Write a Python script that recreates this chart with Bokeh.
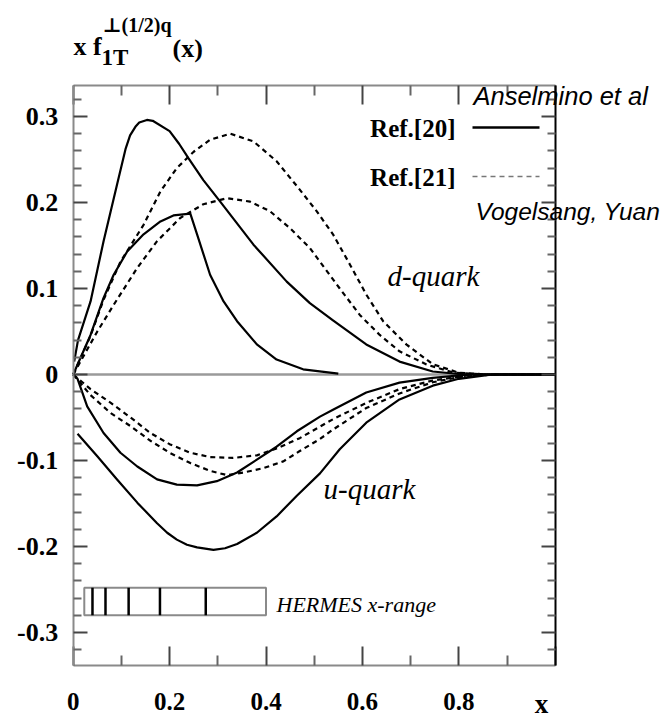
from bokeh.plotting import figure
from bokeh.models import LinearAxis, FixedTicker, Label
from bokeh.embed import file_html
from bokeh.resources import INLINE

# ---------------- data ----------------
X_TICKS = [0.0, 0.2, 0.4, 0.6, 0.8, 1.0]
X_TICK_LABELS = ["0", "0.2", "0.4", "0.6", "0.8", ""]
X_MINOR = [0.1, 0.3, 0.5, 0.7, 0.9]
Y_TICKS = [-0.3, -0.2, -0.1, 0.0, 0.1, 0.2, 0.3]
Y_TICK_LABELS = ["-0.3", "-0.2", "-0.1", "0", "0.1", "0.2", "0.3"]
Y_MINOR = [-0.32, -0.28, -0.26, -0.24, -0.22, -0.18, -0.16, -0.14, -0.12,
           -0.08, -0.06, -0.04, -0.02, 0.02, 0.04, 0.06, 0.08, 0.12, 0.14,
           0.16, 0.18, 0.22, 0.24, 0.26, 0.28, 0.32]
X_LIMITS = [0.0, 1.0]
Y_LIMITS = [-0.338, 0.336]

# d-quark, Ref.[20] (solid)
D20A_X = [0.002, 0.01, 0.036, 0.063, 0.091, 0.109, 0.118, 0.129, 0.137, 0.153, 0.165, 0.2,
          0.22, 0.239, 0.27, 0.305, 0.374, 0.443, 0.491, 0.539, 0.608, 0.677, 0.746, 0.81,
          0.9, 1.0]
D20A_Y = [0.015, 0.04, 0.085, 0.155, 0.221, 0.263, 0.278, 0.288, 0.293, 0.296, 0.295, 0.283,
          0.268, 0.2515, 0.226, 0.201, 0.151, 0.108, 0.083, 0.063, 0.035, 0.015, 0.0035, 0.0,
          0.0, 0.0]
D20B_X = [0.0, 0.036, 0.063, 0.084, 0.112, 0.146, 0.181, 0.208, 0.243, 0.257, 0.284,
          0.312, 0.34, 0.381, 0.422, 0.477, 0.55]
D20B_Y = [0.0, 0.046, 0.089, 0.116, 0.143, 0.163, 0.178, 0.185, 0.187, 0.163, 0.116,
          0.085, 0.062, 0.035, 0.0174, 0.006, 0.001]
# d-quark, Ref.[21] (dashed)
D21A_X = [0.0, 0.036, 0.063, 0.098, 0.146, 0.181, 0.215, 0.25, 0.284, 0.326, 0.374,
          0.422, 0.47, 0.505, 0.539, 0.574, 0.608, 0.643, 0.691, 0.746, 0.8, 0.86, 1.0]
D21A_Y = [0.0, 0.045, 0.087, 0.131, 0.174, 0.213, 0.24, 0.259, 0.273, 0.28, 0.271,
          0.248, 0.215, 0.19, 0.163, 0.128, 0.093, 0.062, 0.035, 0.012, 0.002, 0.0, 0.0]
D21B_X = [0.0, 0.05, 0.084, 0.133, 0.174, 0.222, 0.27, 0.319, 0.367, 0.408, 0.45,
          0.491, 0.512, 0.553, 0.595, 0.636, 0.677, 0.733, 0.79, 0.86, 1.0]
D21B_Y = [0.0, 0.05, 0.081, 0.124, 0.155, 0.182, 0.198, 0.205, 0.201, 0.19, 0.17,
          0.147, 0.131, 0.1, 0.069, 0.046, 0.027, 0.0116, 0.002, 0.0, 0.0]
# u-quark, Ref.[20] (solid)
U20A_X = [0.0, 0.009, 0.029, 0.063, 0.098, 0.133, 0.174, 0.215, 0.257, 0.298, 0.34,
          0.381, 0.422, 0.464, 0.512, 0.539, 0.608, 0.677, 0.746, 0.82, 1.0]
U20A_Y = [0.0, -0.005, -0.037, -0.068, -0.091, -0.107, -0.122, -0.128, -0.129, -0.124,
          -0.114, -0.099, -0.084, -0.066, -0.049, -0.041, -0.021, -0.0095, -0.004, 0.0, 0.0]
U20B_X = [0.009, 0.05, 0.091, 0.133, 0.174, 0.195, 0.215, 0.236, 0.257, 0.291, 0.315, 0.34,
          0.381, 0.422, 0.464, 0.512, 0.553, 0.608, 0.677, 0.746, 0.8, 0.87, 1.0]
U20B_Y = [-0.069, -0.095, -0.122, -0.149, -0.173, -0.184, -0.192, -0.198, -0.201, -0.204,
          -0.202, -0.197, -0.184, -0.165, -0.141, -0.115, -0.087, -0.056, -0.029, -0.013,
          -0.005, 0.0, 0.0]
# u-quark, Ref.[21] (dashed)
U21A_X = [0.0, 0.036, 0.078, 0.119, 0.16, 0.2, 0.243, 0.284, 0.332, 0.381, 0.422,
          0.47, 0.539, 0.608, 0.677, 0.746, 0.82, 0.88, 1.0]
U21A_Y = [0.0, -0.017, -0.033, -0.05, -0.068, -0.081, -0.091, -0.096, -0.097, -0.094,
          -0.086, -0.074, -0.052, -0.033, -0.017, -0.007, -0.001, 0.0, 0.0]
U21B_X = [0.0, 0.036, 0.078, 0.119, 0.16, 0.2, 0.243, 0.284, 0.319, 0.353, 0.394,
          0.436, 0.47, 0.512, 0.539, 0.608, 0.677, 0.746, 0.8, 0.87, 1.0]
U21B_Y = [0.0, -0.024, -0.045, -0.06, -0.077, -0.091, -0.103, -0.112, -0.117, -0.114,
          -0.109, -0.101, -0.089, -0.075, -0.064, -0.039, -0.022, -0.009, -0.003, 0.0, 0.0]

HERMES_RANGE = [0.023, 0.4]
HERMES_BINS = [0.04, 0.067, 0.115, 0.18, 0.275]

# ---------------- geometry (pixels of the picture) ----------------
W, H = 665, 720
X0_PX, X_SCALE = 72.7, 482.0     # pixel of x=0, pixels per unit x
Y0_PX, Y_SCALE = 374.0, 860.0    # pixel of y=0, pixels per unit y


def to_x(px):
    return (px - X0_PX) / X_SCALE


def to_y(py):
    return (Y0_PX - py) / Y_SCALE


p = figure(width=W, height=H, x_range=(to_x(0), to_x(W)), y_range=(to_y(H), to_y(0)),
           output_backend="svg", toolbar_location=None, min_border=0,
           x_axis_location=None, y_axis_location=None)
p.xgrid.visible = False
p.ygrid.visible = False
p.outline_line_color = None
p.background_fill_color = "white"
p.border_fill_color = "white"

TICK_FONT = "Liberation Serif"
FRAME_GRAY = "#8a8a8a"


def make_axis(kind, side, loc, show_labels):
    if kind == "x":
        ax = LinearAxis(ticker=FixedTicker(ticks=X_TICKS, minor_ticks=X_MINOR),
                        major_label_overrides=dict(zip(X_TICKS, X_TICK_LABELS)),
                        fixed_location=loc, bounds=tuple(X_LIMITS),
                        major_tick_in=19, major_tick_out=0,
                        minor_tick_in=10, minor_tick_out=0,
                        major_label_standoff=28)
        size = "25px"
    else:
        ax = LinearAxis(ticker=FixedTicker(ticks=Y_TICKS, minor_ticks=Y_MINOR),
                        major_label_overrides=dict(zip(Y_TICKS, Y_TICK_LABELS)),
                        fixed_location=loc, bounds=tuple(Y_LIMITS),
                        major_tick_in=14, major_tick_out=0,
                        minor_tick_in=8, minor_tick_out=0,
                        major_label_standoff=15)
        size = "26px"
    ax.major_label_text_font = TICK_FONT
    ax.major_label_text_font_style = "bold"
    ax.major_label_text_font_size = size
    ax.major_label_text_color = "black" if show_labels else None
    ax.axis_line_color = "black" if side == "right" else FRAME_GRAY
    ax.axis_line_width = 2
    ax.major_tick_line_color = "#444444"
    ax.major_tick_line_width = 2
    ax.minor_tick_line_color = "#666666"
    ax.minor_tick_line_width = 2
    p.add_layout(ax, side)


make_axis("x", "below", Y_LIMITS[0], True)
make_axis("x", "above", Y_LIMITS[1], False)
make_axis("y", "left", X_LIMITS[0], True)
make_axis("y", "right", X_LIMITS[1], False)

# zero line
p.line(X_LIMITS, [0, 0], line_color="#9a9a9a", line_width=2.5)

# HERMES x-range box
p.quad(left=[HERMES_RANGE[0]], right=[HERMES_RANGE[1]], top=[-0.248], bottom=[-0.280],
       fill_color=None, line_color="#8a8a8a", line_width=2)
p.segment(x0=HERMES_BINS, x1=HERMES_BINS, y0=[-0.280] * len(HERMES_BINS),
          y1=[-0.248] * len(HERMES_BINS), line_color="black", line_width=2.5)

# curves
SOLID = dict(line_color="black", line_width=2.2, line_join="round")
DASH = dict(line_color="black", line_width=2.2, line_dash="5 4", line_join="round")
p.line(D21A_X, D21A_Y, **DASH)
p.line(D21B_X, D21B_Y, **DASH)
p.line(U21A_X, U21A_Y, **DASH)
p.line(U21B_X, U21B_Y, **DASH)
p.line(D20A_X, D20A_Y, **SOLID)
p.line(D20B_X, D20B_Y, **SOLID)
p.line(U20A_X, U20A_Y, **SOLID)
p.line(U20B_X, U20B_Y, **SOLID)


# ---------------- texts (py = vertical centre of the text box) ----------------
def lab(px, py, text, size, font="Liberation Serif", style="normal", align="left"):
    p.add_layout(Label(x=to_x(px), y=to_y(py), text=text, text_font=font,
                       text_font_size=f"{size}px", text_font_style=style,
                       text_align=align, text_baseline="middle", text_color="black"))


# y-axis title  x f_{1T}^{⊥(1/2)q}(x)
lab(73, 46, "x f", 26, style="bold")
lab(101, 57, "1T", 23, style="bold")
lab(102, 24, "\u22a5", 20, font="DejaVu Serif", style="bold")
lab(121, 24, "(1/2)q", 20, style="bold")
lab(172, 48, "(x)", 26, style="bold")

# x-axis title
lab(541, 703, "x", 27, style="bold", align="center")

# legend
lab(455, 128, "Ref.[20]", 25, style="bold", align="right")
lab(455, 177, "Ref.[21]", 25, style="bold", align="right")
p.line([to_x(472), to_x(539)], [to_y(127), to_y(127)], line_color="black", line_width=2.5)
p.line([to_x(472), to_x(539)], [to_y(176), to_y(176)], line_color="#777777",
       line_width=1.5, line_dash="5 4")
lab(473, 95, "Anselmino et al", 25.5, font="Liberation Sans", style="italic")
lab(475, 211, "Vogelsang, Yuan", 24.5, font="Liberation Sans", style="italic")

# annotations
lab(387, 275, "d-quark", 29, style="italic")
lab(323, 488, "u-quark", 29, style="italic")
lab(276, 604, "HERMES x-range", 22, style="italic")

open("out.html", "w").write(file_html(p, INLINE))
